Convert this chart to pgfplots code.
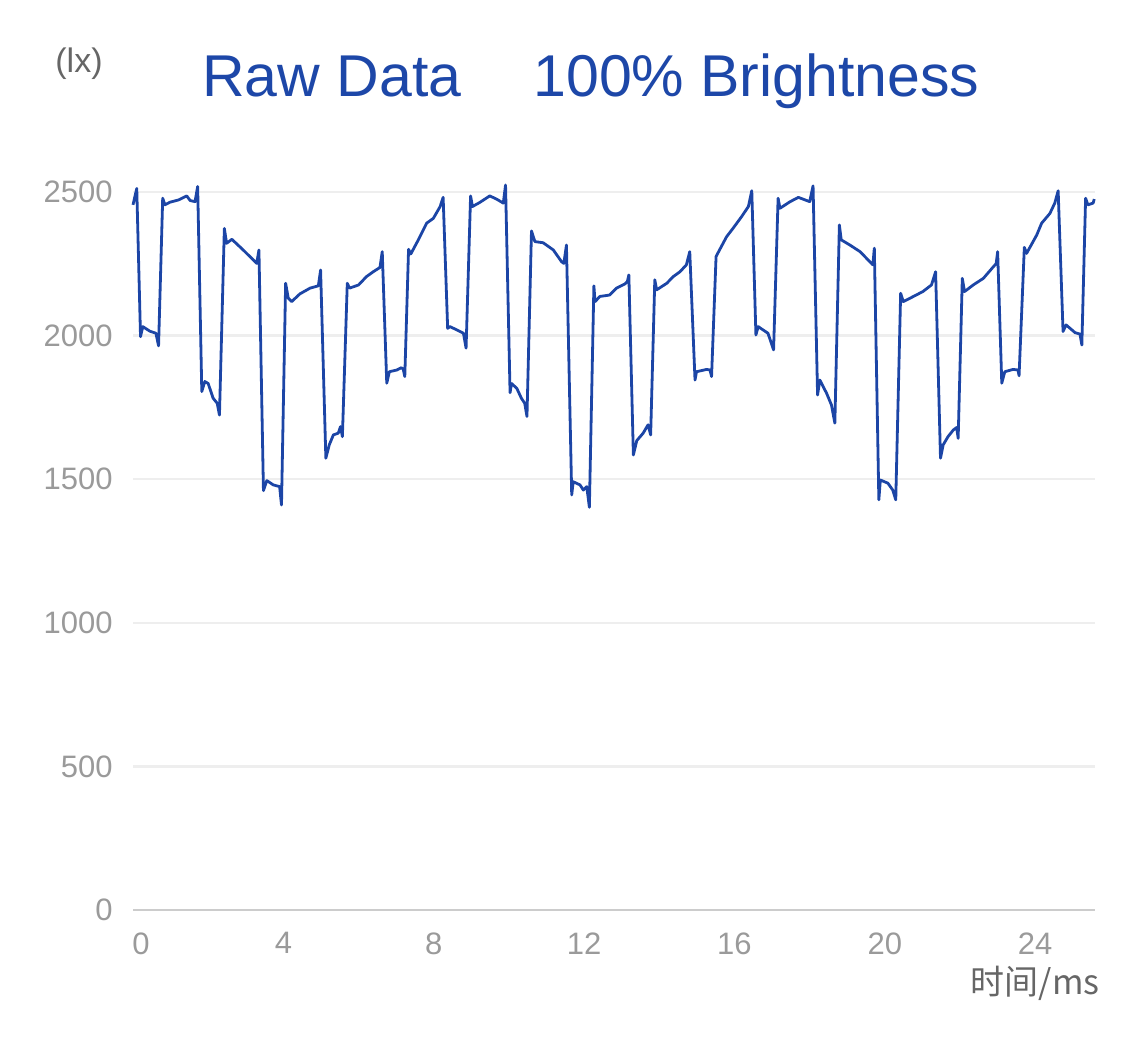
\documentclass[border=0pt]{standalone}
\usepackage{pgfplots}
\pgfplotsset{compat=1.18}
\usepackage{fontspec}
\setmainfont{Liberation Sans}
\newfontfamily\cjk{Noto Sans CJK SC}
\definecolor{lineblue}{HTML}{1C45A6}
\definecolor{titleblue}{HTML}{1D47A8}
\definecolor{tickgray}{HTML}{9A9A9A}
\definecolor{gridgray}{HTML}{EEEEEE}
\definecolor{labgray}{HTML}{666666}
\begin{document}
\begin{tikzpicture}
\path[use as bounding box] (0pt,0pt) rectangle (562.5pt,520pt);
\begin{axis}[
  at={(66.5pt,65pt)}, anchor=south west,
  scale only axis, width=481pt, height=363.5pt,
  xmin=0, xmax=25.59, ymin=0, ymax=2531,
  axis x line*=bottom, axis y line*=left,
  y axis line style={draw=none},
  x axis line style={draw=black!20, line width=1pt},
  tick style={draw=none},
  xtick={4,8,...,24}, ytick={0,500,...,2500},
  extra x ticks={0},
  extra x tick style={xticklabel style={xshift=4pt}},
  ymajorgrids, grid style={draw=gridgray, line width=1.2pt},
  /pgf/number format/assume math mode=true,
  /pgf/number format/1000 sep={},
  ticklabel style={font=\fontsize{15.5}{18}\selectfont, text=tickgray, inner sep=0pt},
  yticklabel style={xshift=-10pt},
  xticklabel style={yshift=-11pt},
  clip=false,
]
\addplot[lineblue, line width=1.4pt, line join=round] coordinates {
(0,2455) (0.10,2512) (0.20,1996) (0.26,2031) (0.45,2015) (0.61,2008) (0.68,1964)
(0.79,2478) (0.85,2455) (0.98,2464) (1.21,2472) (1.43,2486) (1.52,2470) (1.65,2466) (1.72,2519)
(1.83,1805) (1.91,1840) (2.00,1833) (2.13,1782) (2.24,1764) (2.30,1723)
(2.43,2373) (2.49,2321) (2.63,2335) (2.93,2298) (3.20,2263) (3.29,2251) (3.35,2298)
(3.47,1460) (3.56,1495) (3.73,1480) (3.90,1474) (3.95,1410)
(4.06,2182) (4.13,2130) (4.22,2118) (4.44,2145) (4.71,2165) (4.93,2173) (4.99,2228)
(5.13,1573) (5.22,1619) (5.33,1654) (5.46,1660) (5.52,1683) (5.57,1648)
(5.70,2182) (5.76,2165) (6.00,2176) (6.21,2205) (6.39,2222) (6.57,2237) (6.63,2292)
(6.75,1834) (6.82,1874) (7.02,1880) (7.14,1888) (7.19,1882) (7.23,1857)
(7.33,2300) (7.39,2284) (7.59,2333) (7.81,2391) (7.99,2408) (8.17,2449) (8.25,2481)
(8.37,2025) (8.43,2031) (8.64,2018) (8.79,2008) (8.86,1956)
(8.98,2486) (9.03,2449) (9.22,2463) (9.49,2486) (9.67,2475) (9.85,2461) (9.91,2524)
(10.03,1801) (10.07,1833) (10.21,1816) (10.33,1782) (10.42,1764) (10.48,1718)
(10.60,2364) (10.69,2327) (10.91,2323) (11.18,2298) (11.40,2257) (11.46,2251) (11.53,2315)
(11.67,1445) (11.71,1491) (11.89,1480) (11.98,1462) (12.07,1474) (12.14,1402)
(12.26,2173) (12.29,2118) (12.42,2136) (12.68,2141) (12.86,2165) (13.09,2180) (13.15,2188) (13.19,2211)
(13.31,1584) (13.40,1634) (13.57,1660) (13.70,1689) (13.77,1654)
(13.88,2194) (13.93,2159) (14.20,2182) (14.37,2205) (14.55,2222) (14.72,2246) (14.81,2292)
(14.95,1845) (14.99,1874) (15.26,1882) (15.35,1880) (15.39,1857)
(15.51,2275) (15.57,2290) (15.79,2344) (15.96,2373) (16.19,2414) (16.37,2449) (16.46,2504)
(16.57,2002) (16.63,2031) (16.89,2008) (17.04,1950)
(17.16,2478) (17.21,2443) (17.48,2466) (17.70,2481) (18.00,2466) (18.09,2521)
(18.21,1793) (18.27,1845) (18.45,1799) (18.58,1758) (18.67,1695)
(18.79,2385) (18.84,2333) (19.07,2315) (19.34,2292) (19.60,2257) (19.68,2246) (19.72,2304)
(19.84,1428) (19.88,1497) (20.08,1486) (20.21,1462) (20.29,1428)
(20.42,2147) (20.49,2118) (20.76,2136) (21.01,2153) (21.24,2176) (21.35,2222)
(21.48,1573) (21.55,1619) (21.68,1648) (21.82,1671) (21.91,1680) (21.95,1642)
(22.06,2199) (22.12,2153) (22.35,2176) (22.62,2199) (22.89,2240) (22.96,2250) (23.00,2292)
(23.11,1834) (23.19,1874) (23.41,1882) (23.54,1880) (23.57,1860)
(23.71,2307) (23.77,2286) (24.04,2350) (24.17,2391) (24.39,2425) (24.52,2461) (24.61,2504)
(24.74,2014) (24.82,2037) (25.06,2010) (25.19,2005) (25.24,1967)
(25.34,2478) (25.40,2455) (25.54,2461) (25.57,2475)
};
\end{axis}
\node[anchor=base west, inner sep=0pt, text=labgray, font=\fontsize{17}{20}\selectfont] at (27.5pt,483.5pt) {(lx)};
\node[anchor=base west, inner sep=0pt, text=titleblue, font=\fontsize{29.5}{34}\selectfont] at (101pt,471.5pt) {Raw Data};
\node[anchor=base west, inner sep=0pt, text=titleblue, font=\fontsize{29.5}{34}\selectfont] at (266.5pt,471.5pt) {100\% Brightness};
\node[anchor=east, inner sep=0pt, text=labgray, font=\cjk\fontsize{17}{20}\selectfont] at (550pt,28.5pt) {时间/ms};
\end{tikzpicture}
\end{document}
